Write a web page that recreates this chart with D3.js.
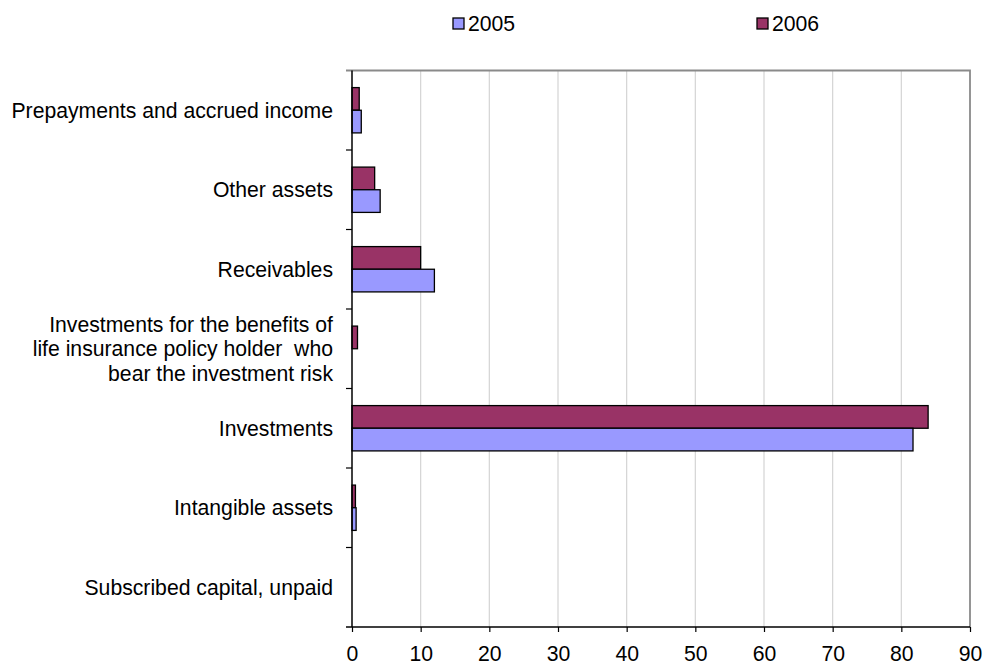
<!DOCTYPE html>
<html>
<head>
<meta charset="utf-8">
<script src="https://cdn.jsdelivr.net/npm/d3@7/dist/d3.min.js"></script>
<style>
  html, body { margin: 0; padding: 0; background: #ffffff; }
  svg { display: block; }
  text { font-family: "Liberation Sans", Arial, sans-serif; fill: #000; white-space: pre; }
</style>
</head>
<body>
<svg id="chart" width="984" height="668"></svg>
<script>
// Balance sheet asset structure, share of total (%), top to bottom
const categories = [
  "Prepayments and accrued income",
  "Other assets",
  "Receivables",
  "Investments for the benefits of|life insurance policy holder  who|bear the investment risk",
  "Investments",
  "Intangible assets",
  "Subscribed capital, unpaid"
];
const seriesNames = ["2005", "2006"];
const values2005 = [1.35, 4.1, 12.0, 0, 81.7, 0.6, 0];
const values2006 = [1.05, 3.3, 10.0, 0.8, 83.9, 0.5, 0];
const xTicks = [0, 10, 20, 30, 40, 50, 60, 70, 80, 90];
const colors = { "2005": "#9999ff", "2006": "#993366" };

const svg = d3.select("#chart");
const plot = { left: 352, right: 970, top: 70.5, bottom: 627 };
const fontSize = 21.2;

const x = d3.scaleLinear().domain([0, 90]).range([plot.left, plot.right]);
const y = d3.scaleBand().domain(categories).range([plot.top, plot.bottom])
  .paddingInner(0.43).paddingOuter(0.215);
const ySub = d3.scaleBand().domain(["2006", "2005"]).range([0, y.bandwidth()]);

// vertical gridlines
svg.append("g").selectAll("line").data(xTicks.slice(1, -1)).join("line")
  .attr("x1", d => x(d)).attr("x2", d => x(d))
  .attr("y1", plot.top).attr("y2", plot.bottom)
  .attr("stroke", "#d4d4d4").attr("stroke-width", 1.2);

// grey frame on top and right
svg.append("path")
  .attr("d", `M${plot.left - 6},${plot.top}H${plot.right}V${plot.bottom}`)
  .attr("fill", "none").attr("stroke", "#8a8a8a").attr("stroke-width", 1.8);

// bars
const rows = [];
categories.forEach((c, i) => {
  rows.push({ cat: c, series: "2006", value: values2006[i] });
  rows.push({ cat: c, series: "2005", value: values2005[i] });
});
svg.append("g").selectAll("rect").data(rows.filter(d => d.value > 0)).join("rect")
  .attr("x", x(0))
  .attr("y", d => y(d.cat) + ySub(d.series))
  .attr("width", d => x(d.value) - x(0))
  .attr("height", ySub.bandwidth())
  .attr("fill", d => colors[d.series])
  .attr("stroke", "#000").attr("stroke-width", 1.3);

// x axis
const xAxis = d3.axisBottom(x).tickValues(xTicks).tickSize(5).tickPadding(14)
  .tickFormat(d3.format("d"));
const gx = svg.append("g").attr("transform", `translate(0,${plot.bottom})`).call(xAxis);
gx.select(".domain").attr("d", `M${plot.left - 6},0H${plot.right}`)
  .attr("stroke", "#000").attr("stroke-width", 1.5);
gx.selectAll(".tick line").attr("stroke", "#000").attr("stroke-width", 1.2);
gx.selectAll(".tick text").attr("font-size", fontSize)
  .attr("font-family", "Liberation Sans, Arial, sans-serif").attr("fill", "#000");

// y axis line and ticks at category boundaries
svg.append("line")
  .attr("x1", plot.left).attr("x2", plot.left)
  .attr("y1", plot.top).attr("y2", plot.bottom)
  .attr("stroke", "#000").attr("stroke-width", 1.5);
const boundaries = categories.slice(1).map(c => y(c) - y.step() * y.paddingInner() / 2);
svg.append("g").selectAll("line").data(boundaries).join("line")
  .attr("x1", plot.left - 6).attr("x2", plot.left)
  .attr("y1", d => d).attr("y2", d => d)
  .attr("stroke", "#000").attr("stroke-width", 1.2);

// category labels (multi-line split on "|")
const lineH = 24.5;
const labels = svg.append("g").selectAll("text").data(categories).join("text")
  .attr("text-anchor", "end")
  .attr("font-size", fontSize)
  .attr("x", 333)
  .attr("y", d => y(d) + y.bandwidth() / 2);
labels.each(function (d) {
  const lines = d.split("|");
  const t = d3.select(this);
  lines.forEach((ln, i) => {
    t.append("tspan").attr("x", 333)
      .attr("dy", i === 0 ? ((-(lines.length - 1) / 2) * lineH + 7.5) : lineH)
      .text(ln);
  });
});

// legend
const legendPos = [{ name: "2005", x: 453 }, { name: "2006", x: 757 }];
const lg = svg.append("g").selectAll("g").data(legendPos).join("g")
  .attr("transform", d => `translate(${d.x},18)`);
lg.append("rect").attr("width", 11).attr("height", 11)
  .attr("fill", d => colors[d.name]).attr("stroke", "#000").attr("stroke-width", 1.3);
lg.append("text").attr("x", 15).attr("y", 13).attr("font-size", fontSize)
  .text(d => d.name);
</script>
</body>
</html>
